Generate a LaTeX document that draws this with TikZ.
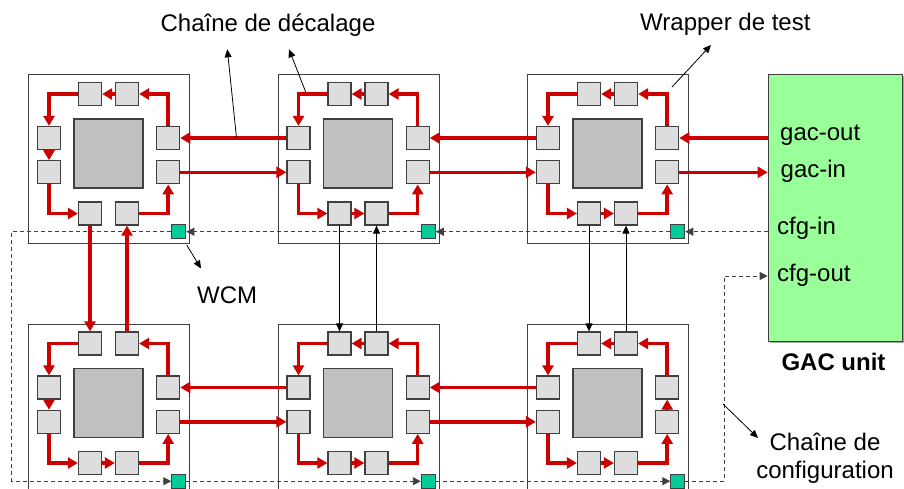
\documentclass[tikz,border=0pt]{standalone}
\usepackage{fontspec}
\setmainfont{Liberation Sans}
\usetikzlibrary{arrows.meta}
\definecolor{redc}{HTML}{CC0000}
\definecolor{boxg}{HTML}{DDDDDD}
\definecolor{coreg}{HTML}{C0C0C0}
\definecolor{edgec}{HTML}{404040}
\definecolor{wcmc}{HTML}{00CC99}
\definecolor{gacc}{HTML}{99FF99}
\tikzset{
  tileframe/.style={draw=edgec, line width=1.1pt, fill=white, minimum width=161pt, minimum height=169pt, inner sep=0pt, anchor=north west},
  sbox/.style={draw=edgec, fill=boxg, line width=1.2pt, minimum size=23pt, inner sep=0pt},
  corebox/.style={draw=edgec, fill=coreg, line width=1.4pt, minimum size=69pt, inner sep=0pt},
  wsq/.style={draw=edgec, fill=wcmc, line width=1pt, minimum size=14pt, inner sep=0pt},
  redarrow/.style={draw=redc, line width=3.5pt, -{Triangle[length=10pt,width=11pt]}},
  thinarr/.style={draw=black, line width=0.8pt, -{Triangle[length=8pt,width=7pt]}},
  cfgarr/.style={draw=edgec, line width=0.9pt, dash pattern=on 4pt off 3pt, -{Triangle[length=8pt,width=8pt]}},
  lbl/.style={font=\fontsize{24}{28}\selectfont, inner sep=0pt},
}
\newcommand{\mytile}[3]{%
  \node[tileframe] (#1f) at (#2,#3) {};
  \begin{scope}[shift={(#2,#3)}]
    \node[corebox] (#1c) at (80.5,79.5) {};
    \node[sbox] (#1ta) at (62,20) {};
    \node[sbox] (#1tb) at (99,20) {};
    \node[sbox] (#1lu) at (21,64) {};
    \node[sbox] (#1ll) at (21,98.3) {};
    \node[sbox] (#1ru) at (140.2,64) {};
    \node[sbox] (#1rl) at (140.2,98.3) {};
    \node[sbox] (#1ba) at (62,139.5) {};
    \node[sbox] (#1bb) at (99,139.5) {};
    \node[wsq] (#1g) at (150.8,157.7) {};
  \end{scope}
}
\newcommand{\commonred}[1]{%
  \draw[redarrow] (#1ru.north) |- (#1tb.east);
  \draw[redarrow] (#1ta.west) -| (#1lu.north);
  \draw[redarrow] (#1ll.south) |- (#1ba.west);
  \draw[redarrow] (#1bb.east) -| (#1rl.south);
}
\begin{document}
\begin{tikzpicture}[x=1pt,y=-1pt]
\useasboundingbox (0,0) rectangle (904,489);
\clip (0,0) rectangle (904,489);
\fill[white] (0,0) rectangle (904,489);

% tiles
\mytile{t1}{28}{74}
\mytile{t2}{277.5}{74}
\mytile{t3}{527}{74}
\mytile{t4}{28}{323.5}
\mytile{t5}{277.5}{323.5}
\mytile{t6}{527}{323.5}

% GAC unit
\fill[gray!70] (770.2,76.5) rectangle (904.5,343.2);
\node[draw=edgec, fill=gacc, line width=1.2pt, minimum width=134.3pt, minimum height=266.7pt, anchor=north west, inner sep=0pt] (gacbox) at (767.7,74) {};
\node[lbl, anchor=base west] (lgout) at (780,141) {gac-out};
\node[lbl, anchor=base west] (lgin) at (780.5,177.5) {gac-in};
\node[lbl, anchor=base west] (lcin) at (777,234.5) {cfg-in};
\node[lbl, anchor=base west] (lcout) at (777,281.5) {cfg-out};
\node[lbl, anchor=base, font=\fontsize{24}{28}\selectfont\bfseries] (lgac) at (833.5,370) {GAC unit};

% configuration chain (dashed)
\coordinate (cfgl) at (11.7,300);
\coordinate (cfgr) at (724.5,276);
\draw[cfgarr] (gacbox.west |- t3g) -- (t3g.east);
\draw[cfgarr] (t3g.west) -- (t2g.east);
\draw[cfgarr] (t2g.west) -- (t1g.east);
\draw[cfgarr] (t1g.west) -- (t1g.west -| cfgl) -- (cfgl |- t4g.west) -- (t4g.west);
\draw[cfgarr] (t4g.east) -- (t5g.west);
\draw[cfgarr] (t5g.east) -- (t6g.west);
\draw[cfgarr] (t6g.east) -| (cfgr) -- (gacbox.west |- cfgr);

% red chain inside tiles
\commonred{t1}\commonred{t2}\commonred{t3}\commonred{t4}\commonred{t5}\commonred{t6}
\foreach \t in {t1,t2,t3,t5,t6}{\draw[redarrow] (\t tb.west) -- (\t ta.east);}
\foreach \t in {t2,t3,t4,t5,t6}{\draw[redarrow] (\t ba.east) -- (\t bb.west);}
\foreach \t in {t1,t4}{\draw[redarrow] (\t lu.south) -- (\t ll.north);}
\draw[redarrow] (t6rl.north) -- (t6ru.south);

% red chain between tiles
\draw[redarrow] (t2lu.west) -- (t1ru.east);
\draw[redarrow] (t3lu.west) -- (t2ru.east);
\draw[redarrow] (t5lu.west) -- (t4ru.east);
\draw[redarrow] (t6lu.west) -- (t5ru.east);
\draw[redarrow] (t1rl.east) -- (t2ll.west);
\draw[redarrow] (t2rl.east) -- (t3ll.west);
\draw[redarrow] (t4rl.east) -- (t5ll.west);
\draw[redarrow] (t5rl.east) -- (t6ll.west);
\draw[redarrow] (gacbox.west |- t3ru) -- (t3ru.east);
\draw[redarrow] (t3rl.east) -- (gacbox.west |- t3rl);
\draw[redarrow] (t1ba.south) -- (t4ta.north);
\draw[redarrow] (t4tb.north) -- (t1bb.south);

% thin black vertical links
\draw[thinarr] (t2ba.south) -- (t5ta.north);
\draw[thinarr] (t5tb.north) -- (t2bb.south);
\draw[thinarr] (t3ba.south) -- (t6ta.north);
\draw[thinarr] (t6tb.north) -- (t3bb.south);

% labels and annotation arrows
\node[lbl, anchor=base] (lchain) at (268,32) {Chaîne de décalage};
\node[lbl, anchor=base west] (lwrap) at (640,31) {Wrapper de test};
\node[lbl, anchor=base west] (lwcm) at (197,303) {WCM};
\node[lbl, anchor=base, align=center] (lconf1) at (825,450) {Chaîne de};
\node[lbl, anchor=base] (lconf2) at (825,478) {configuration};
\coordinate (a1s) at (236.5,137.8);
\coordinate (a1e) at (227.3,49.3);
\coordinate (a2s) at (305.7,92);
\coordinate (a2e) at (289,49.3);
\coordinate (a3s) at (672,87);
\coordinate (a3e) at (711,45);
\coordinate (a4s) at (186.7,245);
\coordinate (a4e) at (201,268.5);
\coordinate (a5s) at (723,404);
\coordinate (a5e) at (758,438);
\draw[thinarr] (a1s) -- (a1e);
\draw[thinarr] (a2s) -- (a2e);
\draw[thinarr] (a3s) -- (a3e);
\draw[thinarr] (a4s) -- (a4e);
\draw[thinarr] (a5s) -- (a5e);
\end{tikzpicture}
\end{document}
